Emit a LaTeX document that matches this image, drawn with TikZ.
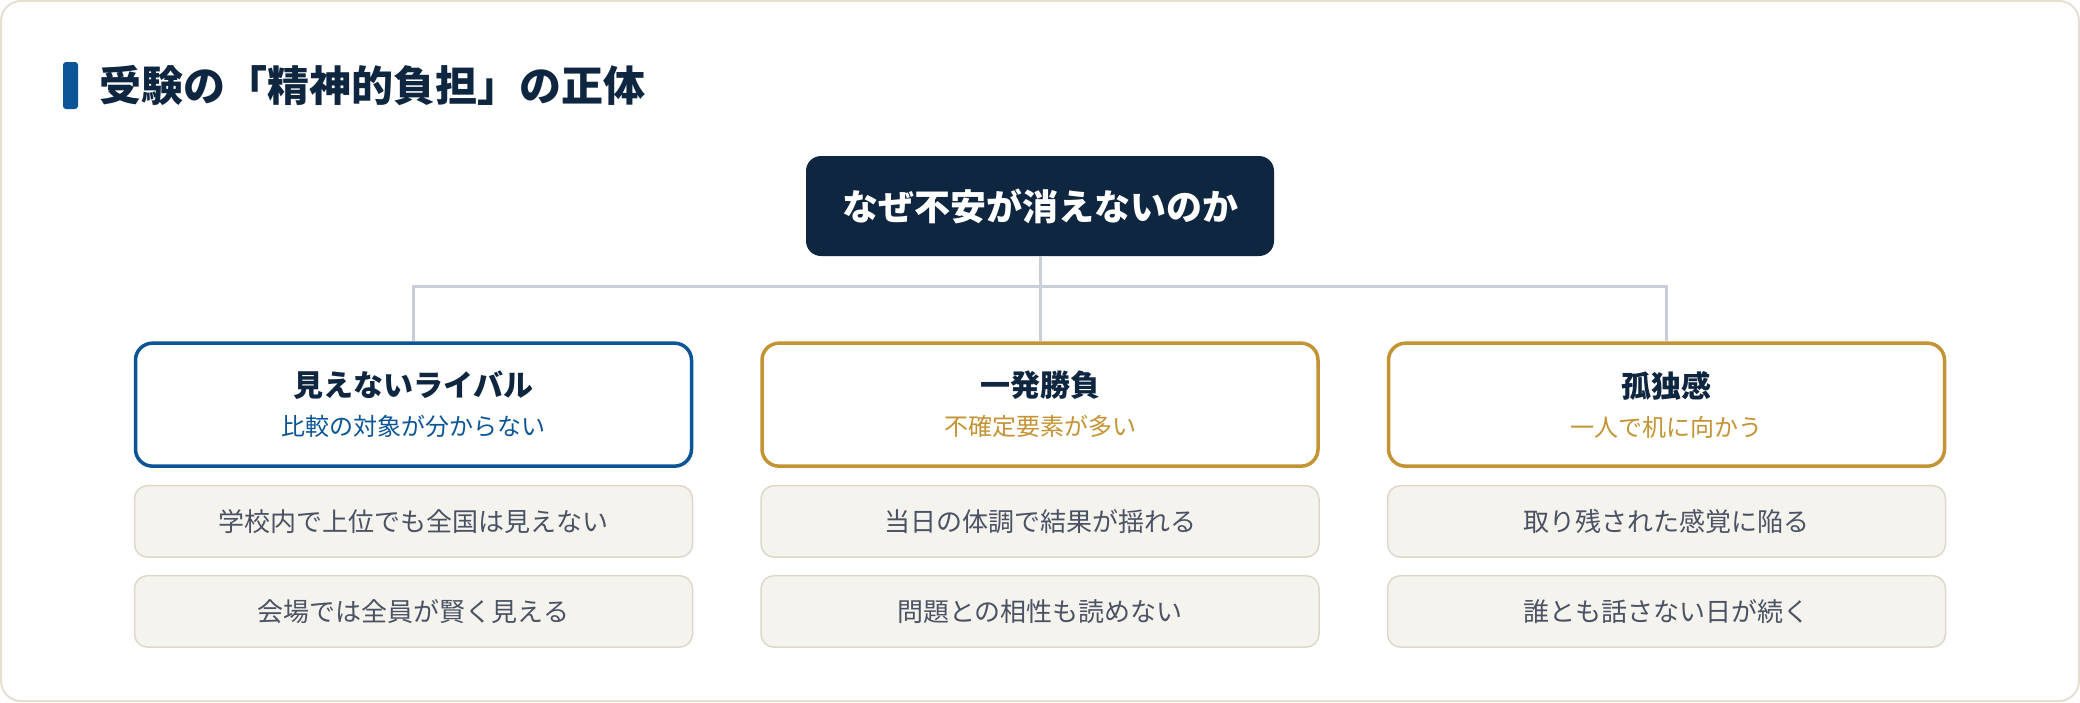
\documentclass[tikz,border=0pt]{standalone}
\usepackage{fontspec}
\setmainfont{Noto Sans CJK JP}
\usepackage{xcolor}
\usetikzlibrary{positioning}
\definecolor{navy}{HTML}{0F2640}
\definecolor{rivalblue}{HTML}{0B5596}
\definecolor{gold}{HTML}{C49334}
\definecolor{paper}{HTML}{F5F3EE}
\definecolor{paperline}{HTML}{DDD8C9}
\definecolor{cardline}{HTML}{E3E0D3}
\definecolor{linkgray}{HTML}{C9CED8}
\definecolor{textgray}{HTML}{4A5263}
\tikzstyle{question} = [rectangle, rounded corners=7.5pt, minimum width=234pt, minimum height=50pt, text centered, fill=navy, text=white, font=\fontsize{18}{22}\selectfont\bfseries]
\tikzstyle{cause} = [rectangle, rounded corners=8.5pt, minimum width=278pt, minimum height=61.5pt, align=center, fill=white, line width=1.75pt, font=\fontsize{12}{19.5}\selectfont]
\tikzstyle{detail} = [rectangle, rounded corners=6.5pt, minimum width=279pt, minimum height=35.75pt, text centered, draw=paperline, fill=paper, line width=0.75pt, text=textgray, font=\fontsize{13}{16}\selectfont]
\tikzstyle{link} = [line width=1.5pt, draw=linkgray]
\begin{document}
\begin{tikzpicture}[x=0.5pt, y=-0.5pt, node distance={8.5pt and 33.5pt}]
    \useasboundingbox (0,0) rectangle (2080,702);
    \draw [cardline, line width=1pt, fill=white, rounded corners=10pt] (1,1) rectangle (2079,701);
    \node (bar) [rectangle, fill=rivalblue, rounded corners=1.5pt, minimum width=7.5pt, minimum height=23.5pt, inner sep=0pt] at (70.5,85.5) {};
    \node (title) [right=10.5pt of bar, inner sep=0pt, text=navy, font=\fontsize{21}{25}\selectfont\bfseries] {受験の「精神的負担」の正体};
    \node (question) [question] at (1040,206) {なぜ不安が消えないのか};
    \node (luck) [cause, draw=gold, below=42.5pt of question] {{\bfseries\fontsize{15}{19.5}\selectfont\color{navy}一発勝負}\\\color{gold}不確定要素が多い};
    \node (rival) [cause, draw=rivalblue, left=of luck] {{\bfseries\fontsize{15}{19.5}\selectfont\color{navy}見えないライバル}\\\color{rivalblue}比較の対象が分からない};
    \node (solitude) [cause, draw=gold, right=of luck] {{\bfseries\fontsize{15}{19.5}\selectfont\color{navy}孤独感}\\\color{gold}一人で机に向かう};
    \node (rival1) [detail, below=of rival] {学校内で上位でも全国は見えない};
    \node (rival2) [detail, below=of rival1] {会場では全員が賢く見える};
    \node (luck1) [detail, below=of luck] {当日の体調で結果が揺れる};
    \node (luck2) [detail, below=of luck1] {問題との相性も読めない};
    \node (solitude1) [detail, below=of solitude] {取り残された感覚に陥る};
    \node (solitude2) [detail, below=of solitude1] {誰とも話さない日が続く};
    \draw [link] (question.south) -- ++(0,30) coordinate (fork);
    \draw [link] (fork) -| (rival.north);
    \draw [link] (fork) -| (solitude.north);
    \draw [link] (fork) -- (luck.north);
  \end{tikzpicture}
\end{document}
